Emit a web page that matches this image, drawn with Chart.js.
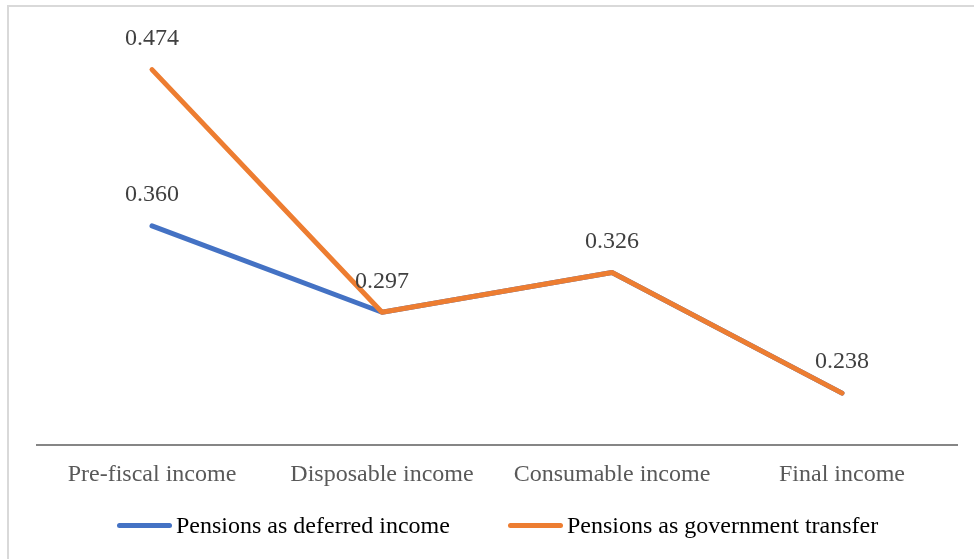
<!DOCTYPE html>
<html>
<head>
<meta charset="utf-8">
<script src="https://cdn.jsdelivr.net/npm/chart.js@4.4.0/dist/chart.umd.min.js"></script>
<style>
  html, body { margin: 0; padding: 0; background: #fff; }
  #wrap { position: relative; width: 974px; height: 559px; overflow: hidden; }
  #frame {
    position: absolute; left: 7px; top: 5px; right: -5px; bottom: -5px;
    border-top: 2px solid #d9d9d9; border-left: 2px solid #d9d9d9;
    pointer-events: none;
  }
  #legend {
    position: absolute; left: 117px; top: 511px;
    display: flex; gap: 58px;
    font: 24px 'Liberation Serif', 'Times New Roman', serif;
    line-height: 28px; color: #000; white-space: nowrap;
  }
  #legend .item { display: flex; align-items: center; }
  #legend .swatch { width: 55px; height: 5px; border-radius: 3px; margin-right: 4px; }
</style>
</head>
<body>
<div id="wrap">
  <canvas id="chart" width="974" height="559"></canvas>
  <div id="legend"></div>
  <div id="frame"></div>
</div>
<script>
const categories = ["Pre-fiscal income", "Disposable income", "Consumable income", "Final income"];
const deferredIncome = [0.360, 0.297, 0.326, 0.238];
const govTransfer = [0.474, 0.297, 0.326, 0.238];

const serif = "'Liberation Serif', 'Times New Roman', serif";

// draws value labels above the points, skipping ones covered by a later series
const valueLabels = {
  id: "valueLabels",
  afterDatasetsDraw(chart) {
    const ctx = chart.ctx;
    const sets = chart.data.datasets;
    ctx.save();
    ctx.font = "24px " + serif;
    ctx.fillStyle = "#404040";
    ctx.textAlign = "center";
    ctx.textBaseline = "middle";
    sets.forEach((ds, i) => {
      const meta = chart.getDatasetMeta(i);
      meta.data.forEach((pt, j) => {
        const dup = sets.some((o, k) => k > i && o.data[j] === ds.data[j]);
        if (dup) return;
        ctx.fillText(ds.data[j].toFixed(3), pt.x, pt.y - 31);
      });
    });
    ctx.restore();
  },
};

const chart = new Chart(document.getElementById("chart"), {
  type: "line",
  data: {
    labels: categories,
    datasets: [
      {
        label: "Pensions as deferred income",
        data: deferredIncome,
        borderColor: "#4472C4",
        backgroundColor: "#4472C4",
        borderWidth: 5,
        borderCapStyle: "round",
        borderJoinStyle: "round",
        pointRadius: 0,
        order: 2,
      },
      {
        label: "Pensions as government transfer",
        data: govTransfer,
        borderColor: "#ED7D31",
        backgroundColor: "#ED7D31",
        borderWidth: 5,
        borderCapStyle: "round",
        borderJoinStyle: "round",
        pointRadius: 0,
        order: 1,
      },
    ],
  },
  options: {
    responsive: false,
    animation: false,
    layout: { padding: { left: 37, right: 17, top: 34, bottom: 55 } },
    plugins: {
      legend: { display: false },
      tooltip: { enabled: false },
    },
    scales: {
      x: {
        offset: true,
        grid: { display: false, drawTicks: false },
        border: { display: true, color: "#868686", width: 2 },
        ticks: {
          font: { family: serif, size: 24 },
          color: "#595959",
          padding: 15,
          maxRotation: 0,
        },
      },
      y: {
        display: false,
        min: 0.2,
        max: 0.5,
      },
    },
  },
  plugins: [valueLabels],
});

// html legend built from the datasets
const legendEl = document.getElementById("legend");
chart.data.datasets.forEach((ds) => {
  const item = document.createElement("div");
  item.className = "item";
  const sw = document.createElement("span");
  sw.className = "swatch";
  sw.style.background = ds.borderColor;
  const txt = document.createElement("span");
  txt.textContent = ds.label;
  item.appendChild(sw);
  item.appendChild(txt);
  legendEl.appendChild(item);
});
</script>
</body>
</html>
